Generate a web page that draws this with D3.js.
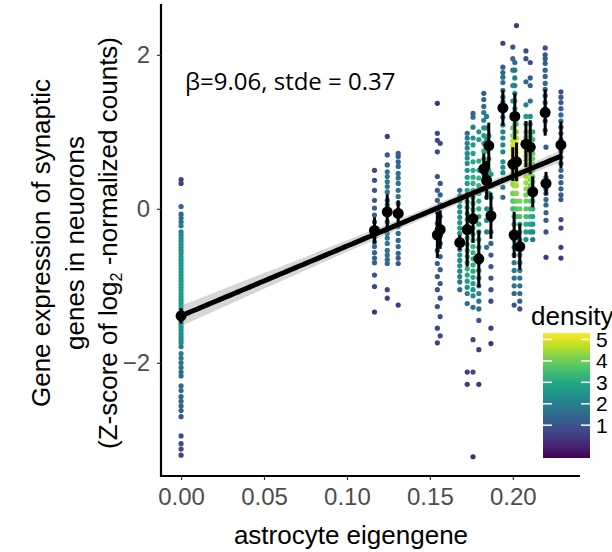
<!DOCTYPE html>
<html><head><meta charset="utf-8">
<script src="https://cdn.jsdelivr.net/npm/d3@7"></script>
<style>body{margin:0;background:#fff}svg{display:block}</style>
</head><body>
<svg id="c" width="612" height="552"></svg>
<script>
// ---- data ----
const colX = [0, 0.1166, 0.1243, 0.1309, 0.1545, 0.1562, 0.168, 0.1725, 0.176, 0.1795,
  0.1825, 0.1842, 0.1855, 0.1868, 0.194, 0.2, 0.2012, 0.2022, 0.2008, 0.2042,
  0.2079, 0.2105, 0.212, 0.2195, 0.22, 0.229];
const colMean = [-1.39, -0.28, -0.04, -0.06, -0.34, -0.27, -0.44, -0.27, -0.13, -0.65,
  0.52, 0.37, 0.82, -0.09, 1.31, 0.58, 1.2, 0.61, -0.34, -0.49,
  0.84, 0.8, 0.22, 1.25, 0.33, 0.83];
const colErr = [0.1, 0.17, 0.23, 0.17, 0.3, 0.25, 0.1, 0.48, 0.31, 0.37,
  0.2, 0.25, 0.3, 0.3, 0.23, 0.22, 0.3, 0.25, 0.3, 0.3,
  0.3, 0.35, 0.2, 0.3, 0.15, 0.3];
const colPts = [
  [0.38,0.33,0.03,-0.07,-0.12,-0.17,-0.22,-0.3,-0.34,-0.38,-0.42,-0.46,-0.5,-0.54,-0.58,-0.62,-0.66,-0.7,-0.74,-0.78,-0.82,-0.86,-0.9,-0.94,-0.98,-1.02,-1.06,-1.1,-1.14,-1.18,-1.22,-1.26,-1.3,-1.34,-1.38,-1.42,-1.46,-1.5,-1.54,-1.58,-1.62,-1.66,-1.7,-1.74,-1.79,-1.88,-1.94,-2.0,-2.06,-2.12,-2.17,-2.3,-2.36,-2.44,-2.5,-2.56,-2.62,-2.7,-2.95,-3.05,-3.12,-3.2],
  [0.5,0.37,0.24,0.11,0.01,-0.08,-0.17,-0.28,-0.37,-0.43,-0.49,-0.57,-0.64,-0.7,-0.86,-1.01,-1.34],
  [0.94,0.7,0.57,0.48,0.42,0.35,0.29,0.22,0.11,0.05,-0.05,-0.17,-0.25,-0.32,-0.38,-0.45,-0.54,-0.6,-0.66,-0.71,-1.05,-1.16],
  [0.72,0.68,0.61,0.55,0.46,0.4,0.33,0.24,0.16,0.07,-0.02,-0.1,-0.23,-0.32,-0.41,-0.49,-0.58,-0.64,-0.71,-1.25],
  [1.37,0.98,0.89,0.74,0.42,0.24,0.11,-0.04,-0.19,-0.36,-0.54,-0.71,-0.88,-1.05,-1.27,-1.55,-1.74],
  [0.85,0.33,0.18,0.05,-0.1,-0.28,-0.45,-0.62,-0.79,-0.97,-1.16,-1.4,-1.65],
  [0.24,0.17,0.1,0.03,-0.04,-0.11,-0.18,-0.25,-0.32,-0.39,-0.46,-0.53,-0.6,-0.67,-0.74,-0.81,-0.88,-0.95,-1.05],
  [0.98,0.92,0.85,0.79,0.72,0.66,0.59,0.5,0.41,0.33,0.24,0.18,0.09,0.02,-0.06,-0.14,-0.22,-0.3,-0.38,-0.46,-0.54,-0.62,-0.7,-0.78,-0.86,-0.94,-1.02,-1.1,-1.23,-2.12,-2.28],
  [1.24,1.19,1.06,0.92,0.83,0.72,0.61,0.5,0.41,0.33,0.24,0.15,0.07,-0.01,-0.09,-0.17,-0.25,-0.33,-0.41,-0.49,-0.57,-0.65,-0.73,-0.81,-0.89,-0.97,-1.05,-1.13,-1.28,-1.7,-2.12,-3.22],
  [1.0,0.9,0.62,0.5,0.4,0.3,0.2,0.1,0.0,-0.1,-0.2,-0.3,-0.4,-0.5,-0.6,-0.7,-0.8,-0.9,-1.0,-1.1,-1.2,-1.3,-1.45,-1.83,-2.28],
  [1.5,1.42,1.33,1.25,1.15,1.05,0.95,0.85,0.75,0.65,0.55,0.45,0.35,0.25],
  [1.2,1.05,0.9,0.75,0.6,0.45,0.3,0.15,0.0,-0.15,-0.3,-0.5],
  [0.95,0.8,0.65,0.5,0.35,0.2],
  [0.45,0.3,0.15,0.0,-0.15,-0.3,-0.45,-0.6,-0.75,-0.9,-1.05,-1.2,-1.55,-1.75],
  [2.15,1.84,1.77,1.71,1.64,1.54,1.45,1.39,1.32,1.19,1.09,1.0,0.92,0.83,0.74,0.61,0.54,0.47,0.37,0.28,0.15],
  [2.1,1.95,1.8,1.6,1.4,1.2,1.05,0.95,0.88,0.82,0.76,0.7,0.64,0.58,0.52,0.46,0.4,0.32,0.2,0.1,0.0],
  [1.9,1.8,1.7,1.6,1.5,1.4,1.3,1.2,1.1,1.0,0.93,0.86,0.8,0.74,0.68,0.62,0.55,0.5],
  [2.38,1.2,1.1,1.0,0.92,0.85,0.79,0.73,0.67,0.61,0.55,0.49,0.43,0.37,0.3,0.2,0.1,0.0,-0.1],
  [0.3,0.2,0.1,0.0,-0.1,-0.2,-0.3,-0.4,-0.5,-0.6,-0.7,-0.8,-0.9,-1.0,-1.1,-1.25],
  [0.1,0.0,-0.1,-0.2,-0.3,-0.4,-0.5,-0.6,-0.7,-0.8,-0.9,-1.0,-1.1,-1.2,-1.3],
  [2.05,1.95,1.65,1.35,1.2,1.1,1.0,0.93,0.87,0.81,0.75,0.69,0.63,0.57,0.5,0.42,0.34,0.26,0.18,0.1,0.0,-0.1,-0.2,-0.3,-0.4],
  [1.9,1.7,1.6,1.4,1.2,1.1,1.0,0.94,0.88,0.82,0.76,0.7,0.64,0.58,0.52,0.45,0.38,0.3,0.2,0.1,0.0,-0.1,-0.2,-0.3],
  [1.0,0.9,0.8,0.72,0.65,0.58,0.5,0.42,0.35,0.28,0.2,0.1,0.0,-0.1,-0.2,-0.3,-0.4],
  [2.09,2.0,1.95,1.89,1.8,1.72,1.63,1.55,1.47,1.38,1.3,1.22,1.14,1.02],
  [0.8,0.6,0.41,0.33,0.25,0.2,0.12,0.05,-0.05,-0.15,-0.3,-0.63],
  [1.52,1.45,1.38,1.3,1.22,1.14,1.06,0.98,0.9,0.83,0.75,0.67,0.59,0.5,0.42,0.34,0.26,0.18,0.12,-0.14,-0.25,-0.5,-0.64]
];
const xTicks = [0, 0.05, 0.1, 0.15, 0.2];
const yTicks = [-2, 0, 2];
const legendTicks = [1, 2, 3, 4, 5];
const legendRange = [-0.53, 5.3];
const densityMax = 5.25;
const fitIntercept = -1.39, fitBeta = 9.06, fitStde = 0.37;
const fitRange = [0, 0.229];
const annotation = "β=9.06, stde = 0.37";

// ---- scales ----
const svg = d3.select("#c");
const x = d3.scaleLinear().domain([-0.0115, 0.2405]).range([162, 580]);
const y = d3.scaleLinear().domain([-3.47, 2.66]).range([476, 4]);
const color = d3.scaleSequential(d3.interpolateViridis).domain(legendRange).clamp(true);

// ---- points with 2D kernel density ----
const pts = [];
colPts.forEach((arr, i) => arr.forEach(v => pts.push({x: colX[i], y: v})));
const sx = 0.004, sy = 0.27;
pts.forEach(p => {
  let s = 0;
  for (const q of pts) {
    const dx = (p.x - q.x) / sx, dy = (p.y - q.y) / sy;
    s += Math.exp(-0.5 * (dx * dx + dy * dy));
  }
  p.raw = s;
});
const rawMax = d3.max(pts, p => p.raw);
pts.forEach(p => { p.d = p.raw / rawMax * densityMax; });
pts.sort((a, b) => a.d - b.d);
svg.append("g").selectAll("circle").data(pts).join("circle")
  .attr("cx", d => x(d.x)).attr("cy", d => y(d.y)).attr("r", 2.6)
  .attr("fill", d => color(d.d));

// ---- regression band + line ----
const xbar = 0.165;
const fx = d3.range(0, 101).map(i => fitRange[0] + (fitRange[1] - fitRange[0]) * i / 100);
const band = fx.map(v => {
  const m = fitIntercept + fitBeta * v;
  const se = 1.96 * Math.sqrt(0.03 * 0.03 + Math.pow((v - xbar) * fitStde, 2));
  return {x: v, lo: m - se, hi: m + se, m};
});
svg.append("path").datum(band)
  .attr("d", d3.area().x(d => x(d.x)).y0(d => y(d.lo)).y1(d => y(d.hi)))
  .attr("fill", "#999").attr("opacity", 0.4);
svg.append("path").datum(band)
  .attr("d", d3.line().x(d => x(d.x)).y(d => y(d.m)))
  .attr("fill", "none").attr("stroke", "#000").attr("stroke-width", 5);

// ---- means + error bars ----
const gm = svg.append("g");
colX.forEach((cx, i) => {
  gm.append("line").attr("x1", x(cx)).attr("x2", x(cx))
    .attr("y1", y(colMean[i] - colErr[i])).attr("y2", y(colMean[i] + colErr[i]))
    .attr("stroke", "#000").attr("stroke-width", 3);
  gm.append("circle").attr("cx", x(cx)).attr("cy", y(colMean[i])).attr("r", 5.5).attr("fill", "#000");
});

// ---- axes ----
const font = "'Liberation Sans', Arial, sans-serif";
const xa = svg.append("g").attr("transform", "translate(0,476)")
  .call(d3.axisBottom(x).tickValues(xTicks).tickFormat(d3.format(".2f")).tickSize(4).tickSizeOuter(0).tickPadding(8));
const ya = svg.append("g").attr("transform", "translate(161,0)")
  .call(d3.axisLeft(y).tickValues(yTicks).tickFormat(d3.format("d")).tickSize(4).tickSizeOuter(0).tickPadding(7));
[xa, ya].forEach(a => {
  a.select(".domain").attr("stroke", "#000").attr("stroke-width", 2.2);
  a.selectAll(".tick line").attr("stroke", "#333").attr("stroke-width", 1.2);
  a.selectAll(".tick text").attr("fill", "#4d4d4d").style("font-family", font).style("font-size", "24px");
});
xa.select(".domain").attr("d", "M161,0H580");
ya.select(".domain").attr("d", "M0,4V477");

svg.append("text").attr("x", 351).attr("y", 544).attr("text-anchor", "middle")
  .style("font-family", font).style("font-size", "26px").attr("fill", "#000")
  .text("astrocyte eigengene");

const yt = svg.append("text").attr("transform", "translate(0,243) rotate(-90)")
  .attr("text-anchor", "middle").style("font-family", font).style("font-size", "26px").attr("fill", "#000");
yt.append("tspan").attr("x", 0).attr("y", 50).text("Gene expression of synaptic");
yt.append("tspan").attr("x", 0).attr("y", 84).text("genes in neuorons");
const l3 = yt.append("tspan").attr("x", 0).attr("y", 117);
l3.append("tspan").text("(Z-score of log");
l3.append("tspan").attr("dy", 5).style("font-size", "16px").text("2");
l3.append("tspan").attr("dy", -5).text(" -normalized counts)");

svg.append("text").attr("x", 185).attr("y", 90)
  .style("font-family", "'Open Sans', sans-serif").style("font-size", "24px").attr("fill", "#000")
  .text(annotation);

// ---- legend ----
const ly = d3.scaleLinear().domain(legendRange).range([458, 333]);
const defs = svg.append("defs");
const grad = defs.append("linearGradient").attr("id", "vg").attr("x1", 0).attr("y1", 1).attr("x2", 0).attr("y2", 0);
d3.range(0, 11).forEach(i => grad.append("stop").attr("offset", i / 10).attr("stop-color", d3.interpolateViridis(i / 10)));
svg.append("rect").attr("x", 543).attr("y", 333).attr("width", 47).attr("height", 125).attr("fill", "url(#vg)");
const lg = svg.append("g");
legendTicks.forEach(t => {
  lg.append("line").attr("x1", 543).attr("x2", 552).attr("y1", ly(t)).attr("y2", ly(t)).attr("stroke", "#fff").attr("stroke-width", 1.5);
  lg.append("line").attr("x1", 581).attr("x2", 590).attr("y1", ly(t)).attr("y2", ly(t)).attr("stroke", "#fff").attr("stroke-width", 1.5);
  lg.append("text").attr("x", 596).attr("y", ly(t)).attr("dy", "0.36em")
    .style("font-family", font).style("font-size", "21px").attr("fill", "#000").text(t);
});
svg.append("text").attr("x", 531).attr("y", 325)
  .style("font-family", font).style("font-size", "26px").attr("fill", "#000").text("density");
</script>
</body></html>
